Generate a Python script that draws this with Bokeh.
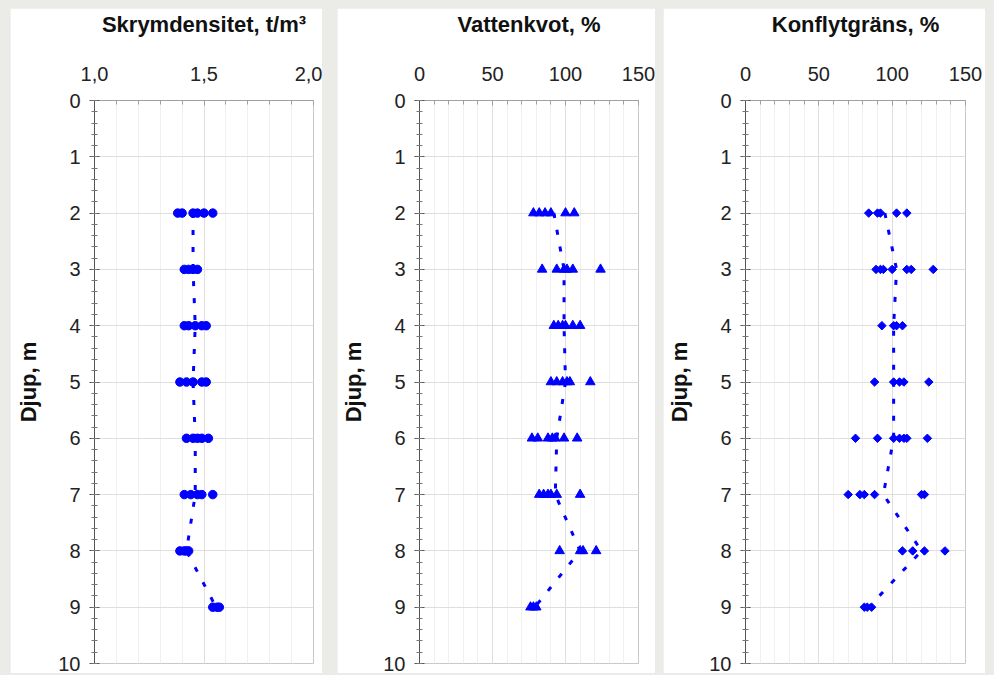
from bokeh.plotting import figure
from bokeh.layouts import row
from bokeh.models import Range1d, FixedTicker, GlobalInlineStyleSheet
from bokeh.embed import file_html
from bokeh.resources import INLINE

# ---------------- data ----------------
djup_medel = [2, 3, 4, 5, 6, 7, 8, 9]

skrym_djup = [2, 2, 2, 2, 2, 2, 3, 3, 3, 3, 4, 4, 4, 4, 4, 5, 5, 5, 5, 5,
              6, 6, 6, 6, 6, 7, 7, 7, 7, 7, 8, 8, 8, 8, 9, 9, 9]
skrym = [1.38, 1.40, 1.45, 1.47, 1.50, 1.54,
         1.41, 1.43, 1.45, 1.47,
         1.41, 1.43, 1.46, 1.49, 1.51,
         1.39, 1.42, 1.45, 1.49, 1.51,
         1.42, 1.45, 1.47, 1.49, 1.52,
         1.41, 1.44, 1.47, 1.49, 1.54,
         1.39, 1.41, 1.42, 1.43,
         1.54, 1.56, 1.57]
skrym_medel = [1.45, 1.45, 1.46, 1.45, 1.46, 1.46, 1.42, 1.555]

vatten_djup = [2, 2, 2, 2, 2, 2, 3, 3, 3, 3, 3, 3, 4, 4, 4, 4, 4, 4,
               5, 5, 5, 5, 5, 5, 6, 6, 6, 6, 6, 6, 6, 7, 7, 7, 7, 7, 7,
               8, 8, 8, 8, 9, 9, 9]
vatten = [78, 82, 86, 90, 100, 106,
          84, 94, 99, 101, 105, 124,
          92, 95, 98, 100, 105, 110,
          90, 94, 98, 101, 103, 117,
          77, 81, 88, 91, 93, 99, 108,
          82, 85, 88, 90, 94, 110,
          96, 110, 112, 121,
          76, 78, 80]
vatten_medel = [92, 99, 99, 100, 94, 93, 110, 79]

konflyt_djup = [2, 2, 2, 2, 2, 3, 3, 3, 3, 3, 3, 3, 4, 4, 4, 4,
                5, 5, 5, 5, 5, 6, 6, 6, 6, 6, 6, 6, 7, 7, 7, 7, 7, 7,
                8, 8, 8, 8, 9, 9, 9]
konflyt = [84, 90, 92, 103, 110,
           89, 92, 94, 100, 110, 113, 128,
           93, 101, 103, 107,
           88, 101, 105, 108, 125,
           75, 90, 101, 105, 108, 110, 124,
           70, 78, 81, 88, 120, 122,
           107, 114, 122, 136,
           81, 83, 86]
konflyt_medel = [95, 103, 101, 101, 101, 94, 120, 84]

y_ticks = [0, 1, 2, 3, 4, 5, 6, 7, 8, 9, 10]
skrym_ticks = [1.0, 1.5, 2.0]
skrym_tick_labels = ["1,0", "1,5", "2,0"]
procent_ticks = [0, 50, 100, 150]
procent_tick_labels = ["0", "50", "100", "150"]

# ---------------- style ----------------
GRAY = "#ebebe8"
BLUE = "#0000ff"
FONT = "Liberation Sans"


def panel(title, xmin, xmax, ticks, tick_labels, minor_step, width, left, right, margin_left):
    p = figure(width=width, height=665,
               x_range=Range1d(xmin, xmax), y_range=Range1d(10, 0),
               x_axis_location="above", output_backend="svg", toolbar_location=None,
               min_border_left=left, min_border_right=right,
               min_border_top=92, min_border_bottom=10)
    p.margin = (8, 0, 0, margin_left)
    p.background_fill_color = "white"
    p.border_fill_color = "white"
    p.outline_line_color = "#c8c8c8"

    n_minor = int(round((xmax - xmin) / minor_step))
    xminor = [xmin + i * minor_step for i in range(n_minor + 1)]
    xa = p.xaxis[0]
    xa.ticker = FixedTicker(ticks=ticks, minor_ticks=xminor)
    xa.major_label_overrides = {float(t): l for t, l in zip(ticks, tick_labels)}
    xa.axis_label = title
    xa.axis_label_text_font = FONT
    xa.axis_label_text_font_style = "bold"
    xa.axis_label_text_font_size = "22px"
    xa.axis_label_text_color = "#111111"
    xa.axis_label_standoff = 27
    xa.major_label_text_font = FONT
    xa.major_label_text_font_size = "20px"
    xa.major_label_text_color = "#222222"
    xa.major_label_standoff = 20
    xa.axis_line_color = "#a0a0a0"
    xa.major_tick_line_color = "#a0a0a0"
    xa.minor_tick_line_color = "#a0a0a0"
    xa.major_tick_in = 5
    xa.major_tick_out = 0
    xa.minor_tick_in = 4
    xa.minor_tick_out = 0

    ya = p.yaxis[0]
    ya.ticker = FixedTicker(ticks=y_ticks, minor_ticks=[i * 0.2 for i in range(51)])
    ya.axis_label = "Djup, m"
    ya.axis_label_text_font = FONT
    ya.axis_label_text_font_style = "bold"
    ya.axis_label_text_font_size = "22px"
    ya.axis_label_text_color = "#111111"
    ya.axis_label_standoff = 14
    ya.major_label_text_font = FONT
    ya.major_label_text_font_size = "20px"
    ya.major_label_text_color = "#222222"
    ya.major_label_standoff = 9
    ya.axis_line_color = "#555555"
    ya.major_tick_line_color = "#555555"
    ya.minor_tick_line_color = "#777777"
    ya.major_tick_in = 5
    ya.major_tick_out = 5
    ya.minor_tick_in = 3
    ya.minor_tick_out = 3

    p.xgrid.grid_line_color = "#dedede"
    p.xgrid.minor_grid_line_color = "#f0f0f0"
    p.ygrid.grid_line_color = "#dedede"
    return p


p1 = panel("Skrymdensitet, t/m\u00b3", 1.0, 2.0, skrym_ticks, skrym_tick_labels, 0.1,
           312, 84, 9, 10)
p1.line(skrym_medel, djup_medel, line_color=BLUE, line_width=3, line_dash="5 12")
p1.scatter(skrym, skrym_djup, marker="circle", size=8.5, fill_color=BLUE, line_color=BLUE)

p2 = panel("Vattenkvot, %", 0, 150, procent_ticks, procent_tick_labels, 10,
           318, 82, 17, 15)
p2.line(vatten_medel, djup_medel, line_color=BLUE, line_width=3, line_dash="5 12")
p2.scatter(vatten, vatten_djup, marker="triangle", size=9.5, fill_color=BLUE, line_color=BLUE)

p3 = panel("Konflytgr\u00e4ns, %", 0, 150, procent_ticks, procent_tick_labels, 10,
           322, 82, 20, 8)
p3.line(konflyt_medel, djup_medel, line_color=BLUE, line_width=3, line_dash="5 12")
p3.scatter(konflyt, konflyt_djup, marker="square", angle=0.785398, size=6,
           fill_color=BLUE, line_color=BLUE)

layout = row(p1, p2, p3, styles={"background-color": GRAY},
             stylesheets=[GlobalInlineStyleSheet(css="body { background-color: #ebebe8; }")])

open("out.html", "w").write(file_html(layout, INLINE))
